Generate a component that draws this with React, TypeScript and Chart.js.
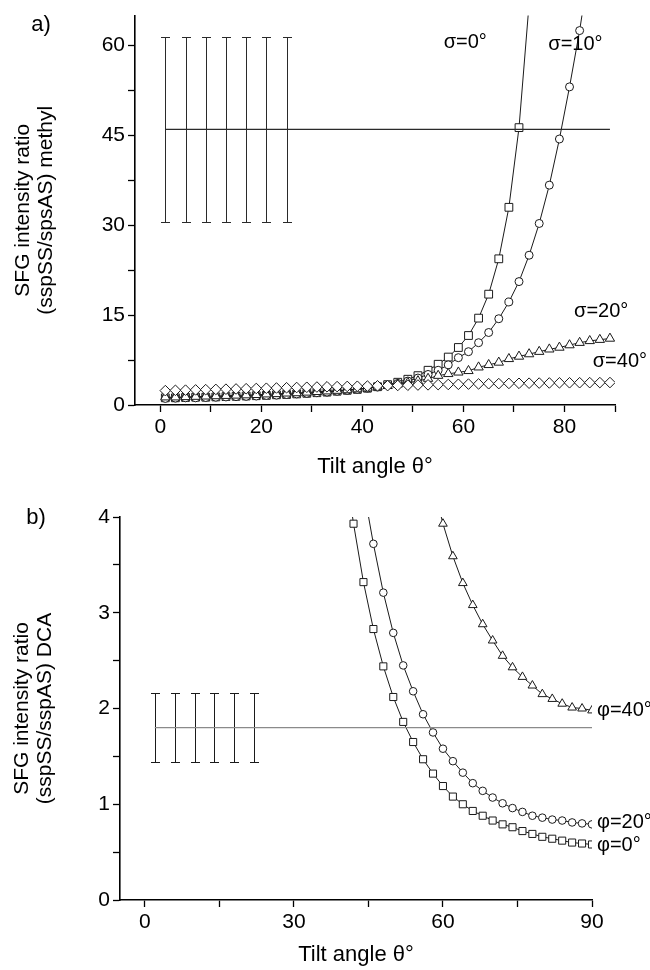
import React, { useEffect, useRef } from 'react';
import { Chart, registerables } from 'chart.js';

Chart.register(...registerables);

const FONT = '"Liberation Sans", Arial, Helvetica, sans-serif';

// ---------- Panel a (methyl) ----------
const thetaA = [1, 3, 5, 7, 9, 11, 13, 15, 17, 19, 21, 23, 25, 27, 29, 31, 33, 35, 37, 39, 41, 43, 45, 47, 49, 51, 53, 55, 57, 59, 61, 63, 65, 67, 69, 71, 73, 75, 77, 79, 81, 83, 85, 87, 89];
const sigma0A = [1.2, 1.2, 1.25, 1.3, 1.3, 1.35, 1.4, 1.45, 1.5, 1.55, 1.6, 1.7, 1.75, 1.85, 1.95, 2.05, 2.15, 2.3, 2.45, 2.6, 2.8, 3.05, 3.4, 3.8, 4.3, 4.9, 5.8, 6.8, 8.0, 9.6, 11.6, 14.5, 18.5, 24.4, 33.0, 46.3, 67.0];
const sigma10A = [1.1, 1.15, 1.2, 1.2, 1.25, 1.3, 1.35, 1.4, 1.45, 1.5, 1.6, 1.65, 1.75, 1.85, 1.95, 2.05, 2.15, 2.3, 2.45, 2.6, 2.8, 3.0, 3.3, 3.6, 4.0, 4.5, 5.1, 5.8, 6.7, 7.9, 8.9, 10.4, 12.1, 14.4, 17.2, 20.6, 25.0, 30.3, 36.7, 44.4, 53.1, 62.5, 73.5];
const sigma20A = [1.3, 1.3, 1.35, 1.4, 1.45, 1.5, 1.55, 1.6, 1.65, 1.7, 1.8, 1.85, 1.95, 2.0, 2.1, 2.2, 2.3, 2.4, 2.5, 2.65, 2.8, 3.0, 3.2, 3.45, 3.7, 4.0, 4.4, 4.9, 5.2, 5.45, 5.7, 6.3, 6.7, 7.1, 7.7, 8.1, 8.5, 8.9, 9.3, 9.6, 10.0, 10.4, 10.7, 10.9, 11.1];
const sigma40A = [2.4, 2.45, 2.48, 2.52, 2.56, 2.6, 2.64, 2.68, 2.72, 2.76, 2.8, 2.84, 2.88, 2.92, 2.96, 3.0, 3.04, 3.07, 3.1, 3.13, 3.16, 3.2, 3.23, 3.26, 3.3, 3.33, 3.36, 3.4, 3.43, 3.46, 3.49, 3.52, 3.55, 3.57, 3.6, 3.62, 3.64, 3.66, 3.68, 3.7, 3.71, 3.72, 3.73, 3.74, 3.75];
const expThetaA = [1, 5, 9, 13, 17, 21, 25];
const expMeanA = 46;
const expErrA = 15.4;
const meanLineXA = [1, 89];
const labelsA = ['σ=0°', 'σ=10°', 'σ=20°', 'σ=40°'];
const labelXA = [56.1, 76.8, 81.9, 85.6];
const labelYA = [60.5, 60.2, 15.6, 7.2];

// ---------- Panel b (DCA) ----------
const thetaB = [40, 42, 44, 46, 48, 50, 52, 54, 56, 58, 60, 62, 64, 66, 68, 70, 72, 74, 76, 78, 80, 82, 84, 86, 88, 90];
const phi0B = [4.65, 3.93, 3.32, 2.83, 2.44, 2.12, 1.86, 1.65, 1.47, 1.32, 1.19, 1.08, 1.0, 0.93, 0.88, 0.83, 0.79, 0.76, 0.72, 0.69, 0.66, 0.64, 0.62, 0.6, 0.59, 0.58];
const phi20B = [null, null, 4.3, 3.72, 3.21, 2.79, 2.45, 2.18, 1.94, 1.75, 1.58, 1.45, 1.33, 1.22, 1.14, 1.07, 1.01, 0.96, 0.92, 0.88, 0.86, 0.84, 0.83, 0.81, 0.8, 0.79];
const phi40B = [null, null, null, null, null, null, null, null, null, 4.35, 3.93, 3.59, 3.31, 3.08, 2.88, 2.71, 2.55, 2.43, 2.33, 2.24, 2.15, 2.1, 2.05, 2.01, 2.0, 1.98];
const expThetaB = [2, 6, 10, 14, 18, 22];
const expMeanB = 1.8;
const expErrB = 0.36;
const meanLineXB = [2, 90];
const labelsB = ['φ=40°', 'φ=20°', 'φ=0°'];
const labelXB = [91, 91, 91];
const labelYB = [1.98, 0.81, 0.57];

type Num = number | null;

function series(label: string, xs: number[], ys: Num[], style: string, radius: number) {
  const data = xs
    .map((x, i) => ({ x, y: ys[i] }))
    .filter((p) => p.y !== null && p.y !== undefined);
  return {
    label,
    data,
    showLine: true,
    borderColor: '#1a1a1a',
    borderWidth: 1,
    pointStyle: style,
    pointRadius: radius,
    pointBorderColor: '#1a1a1a',
    pointBackgroundColor: '#ffffff',
    pointBorderWidth: 1,
    tension: 0,
    fill: false,
  };
}

function meanLine(xs: number[], mean: number, color: string, width: number) {
  return {
    label: 'mean',
    data: xs.map((x) => ({ x, y: mean })),
    showLine: true,
    borderColor: color,
    borderWidth: width,
    pointRadius: 0,
    fill: false,
  };
}

function overlayPlugin(cfg: any) {
  return {
    id: 'overlay',
    beforeDatasetsDraw(chart: any) {
      const { ctx, scales } = chart;
      const xs = scales.x;
      const ys = scales.y;
      ctx.save();
      ctx.strokeStyle = cfg.errColor;
      ctx.lineWidth = 1;
      cfg.errX.forEach((xv: number) => {
        const px = Math.round(xs.getPixelForValue(xv)) + 0.5;
        const top = Math.round(ys.getPixelForValue(cfg.mean + cfg.err)) + 0.5;
        const bot = Math.round(ys.getPixelForValue(cfg.mean - cfg.err)) + 0.5;
        ctx.beginPath();
        ctx.moveTo(px, top);
        ctx.lineTo(px, bot);
        ctx.moveTo(px - 4.5, top);
        ctx.lineTo(px + 4.5, top);
        ctx.moveTo(px - 4.5, bot);
        ctx.lineTo(px + 4.5, bot);
        ctx.stroke();
      });
      ctx.restore();
    },
    afterDraw(chart: any) {
      const { ctx, scales } = chart;
      const xs = scales.x;
      const ys = scales.y;
      ctx.save();
      ctx.fillStyle = '#000';
      ctx.textBaseline = 'middle';
      ctx.textAlign = 'left';
      ctx.font = `20px ${FONT}`;
      cfg.labels.forEach((t: string, i: number) => {
        ctx.fillText(t, xs.getPixelForValue(cfg.labelX[i]), ys.getPixelForValue(cfg.labelY[i]));
      });
      ctx.font = `22px ${FONT}`;
      ctx.textAlign = 'center';
      ctx.fillText(cfg.panel, cfg.panelPos[0], cfg.panelPos[1]);
      ctx.restore();
    },
  };
}

function axisCommon(min: number, max: number, step: number, labelEvery: number, fitKey: 'width' | 'height', fitVal: number, title: any) {
  return {
    type: 'linear' as const,
    min,
    max,
    border: { display: true, color: '#000', width: 1.6 },
    grid: {
      display: true,
      drawOnChartArea: false,
      drawTicks: true,
      tickLength: 7,
      tickColor: '#000',
      tickWidth: 1.3,
      color: '#000',
    },
    ticks: {
      stepSize: step,
      includeBounds: false,
      autoSkip: false,
      maxRotation: 0,
      minRotation: 0,
      padding: 3,
      color: '#000',
      font: { size: 21, family: FONT },
      callback: (v: any) => {
        const n = Number(v);
        const r = Math.abs(n / labelEvery - Math.round(n / labelEvery));
        return r < 1e-6 ? String(Math.round(n * 100) / 100) : '';
      },
    },
    title,
    afterFit: (s: any) => {
      s[fitKey] = fitVal;
    },
  };
}

function useChart(ref: React.RefObject<HTMLCanvasElement>, makeConfig: () => any) {
  useEffect(() => {
    if (!ref.current) return;
    const chart = new Chart(ref.current, makeConfig());
    return () => chart.destroy();
  }, []);
}

export default function App() {
  const refA = useRef<HTMLCanvasElement>(null);
  const refB = useRef<HTMLCanvasElement>(null);

  useChart(refA, () => ({
    type: 'scatter',
    data: {
      datasets: [
        meanLine(meanLineXA, expMeanA, '#2a2a2a', 1.3),
        series('σ=40°', thetaA, sigma40A, 'rectRot', 5.3),
        series('σ=20°', thetaA, sigma20A, 'triangle', 5.4),
        series('σ=10°', thetaA, sigma10A, 'circle', 4),
        series('σ=0°', thetaA, sigma0A, 'rect', 5.5),
      ],
    },
    options: {
      responsive: false,
      maintainAspectRatio: false,
      animation: false,
      devicePixelRatio: 1,
      layout: { padding: { left: 0, top: 15, right: 35, bottom: 0 } },
      plugins: { legend: { display: false }, tooltip: { enabled: false } },
      scales: {
        x: axisCommon(-5, 90, 10, 20, 'height', 80, {
          display: true,
          text: 'Tilt angle θ°',
          color: '#000',
          font: { size: 22, family: FONT, lineHeight: 1.2 },
          padding: { top: 0, bottom: 5 },
        }),
        y: axisCommon(0, 65, 7.5, 15, 'width', 135, {
          display: true,
          text: ['SFG intensity ratio', '(sspSS/spsAS) methyl'],
          color: '#000',
          font: { size: 21, family: FONT, lineHeight: 1.1 },
          padding: { top: 12, bottom: 0 },
        }),
      },
    },
    plugins: [
      overlayPlugin({
        errX: expThetaA,
        mean: expMeanA,
        err: expErrA,
        errColor: '#2a2a2a',
        labels: labelsA,
        labelX: labelXA,
        labelY: labelYA,
        panel: 'a)',
        panelPos: [41, 25],
      }),
    ],
  }));

  useChart(refB, () => ({
    type: 'scatter',
    data: {
      datasets: [
        meanLine(meanLineXB, expMeanB, '#8a8a8a', 1.2),
        series('φ=40°', thetaB, phi40B, 'triangle', 5),
        series('φ=20°', thetaB, phi20B, 'circle', 3.8),
        series('φ=0°', thetaB, phi0B, 'rect', 5),
      ],
    },
    options: {
      responsive: false,
      maintainAspectRatio: false,
      animation: false,
      devicePixelRatio: 1,
      layout: { padding: { left: 0, top: 32, right: 58, bottom: 0 } },
      plugins: { legend: { display: false }, tooltip: { enabled: false } },
      scales: {
        x: axisCommon(-5, 90, 15, 30, 'height', 70, {
          display: true,
          text: 'Tilt angle θ°',
          color: '#000',
          font: { size: 22, family: FONT, lineHeight: 1.2 },
          padding: { top: 0, bottom: 2 },
        }),
        y: axisCommon(0, 4, 0.5, 1, 'width', 120, {
          display: true,
          text: ['SFG intensity ratio', '(sspSS/sspAS) DCA'],
          color: '#000',
          font: { size: 21, family: FONT, lineHeight: 1.1 },
          padding: { top: 11, bottom: 0 },
        }),
      },
    },
    plugins: [
      overlayPlugin({
        errX: expThetaB,
        mean: expMeanB,
        err: expErrB,
        errColor: '#1a1a1a',
        labels: labelsB,
        labelX: labelXB,
        labelY: labelYB,
        panel: 'b)',
        panelPos: [36, 33],
      }),
    ],
  }));

  return (
    <div style={{ position: 'absolute', left: 0, top: 0, width: 650, height: 970, background: '#fff', overflow: 'hidden' }}>
      <canvas ref={refA} width={650} height={485} style={{ display: 'block', width: 650, height: 485 }} />
      <canvas ref={refB} width={650} height={485} style={{ display: 'block', width: 650, height: 485 }} />
    </div>
  );
}
